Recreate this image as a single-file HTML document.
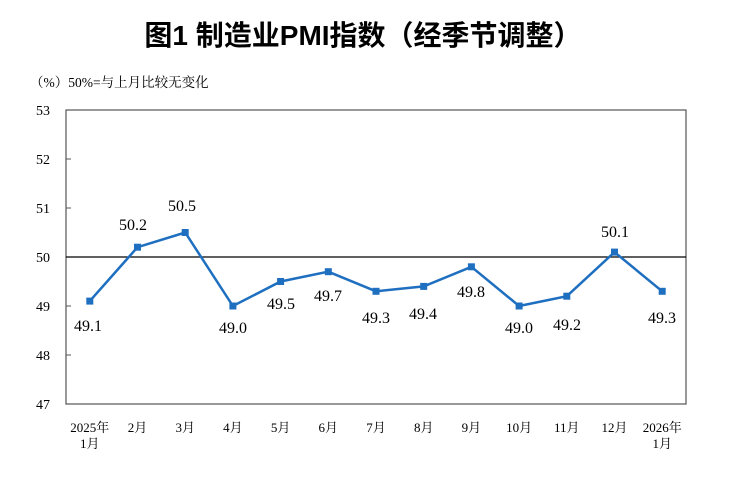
<!DOCTYPE html>
<html><head><meta charset="utf-8"><style>
body{margin:0;background:#fff}
svg text{font-family:"Liberation Serif","Noto Serif CJK SC",serif;fill:#000}
</style></head><body>
<svg width="740" height="482" viewBox="0 0 740 482" xmlns="http://www.w3.org/2000/svg">
<text x="363" y="45" text-anchor="middle" style="font-family:'Liberation Sans','Noto Sans CJK SC',sans-serif;font-weight:bold;font-size:28px">图1  制造业PMI指数（经季节调整）</text>
<text x="30" y="87" font-size="13.5">（%）50%=与上月比较无变化</text>
<rect x="66" y="110" width="620" height="294" fill="none" stroke="#555" stroke-width="1.2"/>
<line x1="66" y1="257" x2="686" y2="257" stroke="#000" stroke-width="1.2"/>
<g stroke="#555" stroke-width="1">
<line x1="66" y1="159" x2="71" y2="159"/><line x1="66" y1="208" x2="71" y2="208"/>
<line x1="66" y1="306" x2="71" y2="306"/><line x1="66" y1="355" x2="71" y2="355"/>
</g>
<g font-size="14" text-anchor="end">
<text x="50" y="115">53</text><text x="50" y="164">52</text><text x="50" y="213">51</text>
<text x="50" y="262">50</text><text x="50" y="311">49</text><text x="50" y="360">48</text><text x="50" y="409">47</text>
</g>
<polyline fill="none" stroke="#1f6fc0" stroke-width="2.5" points="89.8,301.1 137.5,247.2 185.2,232.5 232.9,306 280.6,281.5 328.3,271.7 376,291.3 423.7,286.4 471.4,266.8 519.1,306 566.8,296.2 614.5,252.1 662.2,291.3"/>
<g fill="#1f6fc0">
<rect x="86.3" y="297.6" width="7" height="7"/><rect x="134" y="243.7" width="7" height="7"/><rect x="181.7" y="229" width="7" height="7"/>
<rect x="229.4" y="302.5" width="7" height="7"/><rect x="277.1" y="278" width="7" height="7"/><rect x="324.8" y="268.2" width="7" height="7"/>
<rect x="372.5" y="287.8" width="7" height="7"/><rect x="420.2" y="282.9" width="7" height="7"/><rect x="467.9" y="263.3" width="7" height="7"/>
<rect x="515.6" y="302.5" width="7" height="7"/><rect x="563.3" y="292.7" width="7" height="7"/><rect x="611" y="248.6" width="7" height="7"/>
<rect x="658.7" y="287.8" width="7" height="7"/>
</g>
<g font-size="16" text-anchor="middle">
<text x="88" y="331">49.1</text><text x="133" y="230">50.2</text><text x="182" y="211">50.5</text>
<text x="233" y="333">49.0</text><text x="281" y="309">49.5</text><text x="328" y="301">49.7</text>
<text x="376" y="323">49.3</text><text x="423" y="319">49.4</text><text x="471" y="297">49.8</text>
<text x="519" y="333">49.0</text><text x="567" y="330">49.2</text><text x="615" y="237">50.1</text>
<text x="662" y="323">49.3</text>
</g>
<g font-size="13" text-anchor="middle">
<text x="89.8" y="432">2025年</text><text x="89.8" y="448">1月</text>
<text x="137.5" y="432">2月</text><text x="185.2" y="432">3月</text><text x="232.9" y="432">4月</text>
<text x="280.6" y="432">5月</text><text x="328.3" y="432">6月</text><text x="376" y="432">7月</text>
<text x="423.7" y="432">8月</text><text x="471.4" y="432">9月</text><text x="519.1" y="432">10月</text>
<text x="566.8" y="432">11月</text><text x="614.5" y="432">12月</text>
<text x="662.2" y="432">2026年</text><text x="662.2" y="448">1月</text>
</g>
</svg>
</body></html>
